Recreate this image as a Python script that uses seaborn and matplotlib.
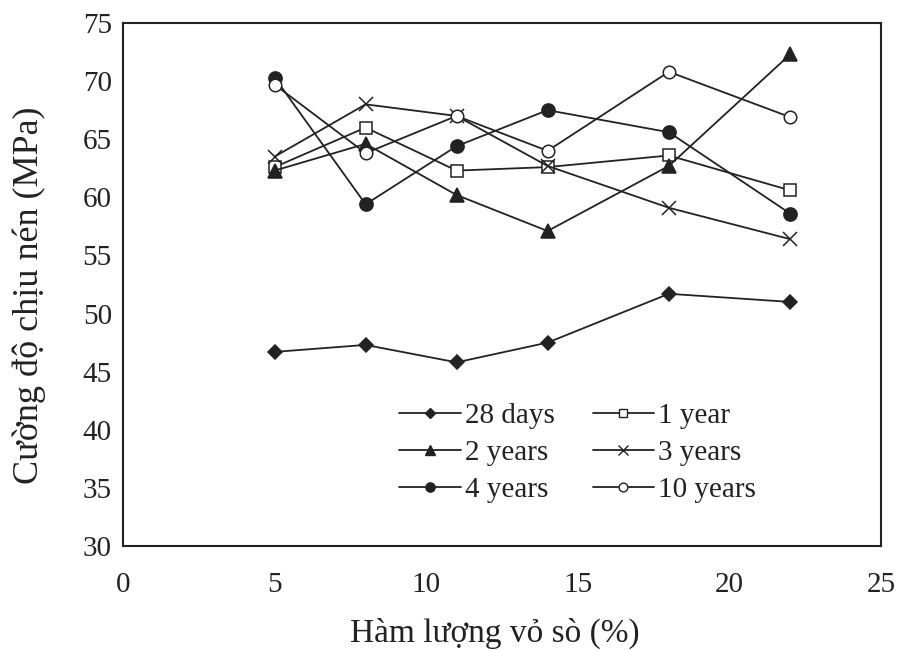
import matplotlib
matplotlib.use("Agg")
import matplotlib.pyplot as plt
import seaborn as sns
import pandas as pd
from matplotlib.lines import Line2D

x_vals = [5, 8, 11, 14, 18, 22]
s_28d = [46.7, 47.3, 45.8, 47.5, 51.7, 51.0]
s_1y = [62.6, 66.0, 62.3, 62.6, 63.6, 60.6]
s_2y = [62.3, 64.6, 60.2, 57.1, 62.7, 72.3]
s_3y = [63.5, 68.0, 67.0, 62.7, 59.1, 56.4]
s_4y = [70.3, 59.4, 64.4, 67.5, 65.6, 58.6]
s_10y = [69.7, 63.8, 67.0, 64.0, 70.8, 66.9]
series_names = ["28 days", "1 year", "2 years", "3 years", "4 years", "10 years"]
x_ticks = [0, 5, 10, 15, 20, 25]
y_ticks = [30, 35, 40, 45, 50, 55, 60, 65, 70, 75]

sns.set_style("white")
plt.rcParams['font.family'] = ['Liberation Serif', 'DejaVu Serif']

rows = []
for name, vals in zip(series_names, [s_28d, s_1y, s_2y, s_3y, s_4y, s_10y]):
    for xv, yv in zip(x_vals, vals):
        rows.append({"x": xv, "y": yv, "series": name})
df = pd.DataFrame(rows)

markers = {"28 days": "D", "1 year": "s", "2 years": "^", "3 years": "x",
           "4 years": "o", "10 years": "o"}
fills = {"28 days": True, "1 year": False, "2 years": True, "3 years": True,
         "4 years": True, "10 years": False}
sizes = {"28 days": 7.5, "1 year": 8.5, "2 years": 9.5, "3 years": 10,
         "4 years": 9.5, "10 years": 9}
C = "#222222"

fig = plt.figure(figsize=(9.01, 6.51), dpi=100)
ax = fig.add_axes([0.1365, 0.1613, 0.8415, 0.8034])

for name in series_names:
    sub = df[df["series"] == name]
    sns.lineplot(data=sub, x="x", y="y", ax=ax, color=C, linewidth=1.3,
                 marker=markers[name], markersize=sizes[name],
                 markerfacecolor=C if fills[name] else "white",
                 markeredgecolor=C, markeredgewidth=1.1,
                 sort=False, legend=False)

handles = []
for name in series_names:
    handles.append(Line2D([], [], color=C, lw=1.3, marker=markers[name],
                          markersize=sizes[name] * 0.7,
                          markerfacecolor=C if fills[name] else "white",
                          markeredgecolor=C, markeredgewidth=1.0))
order = [0, 2, 4, 1, 3, 5]
leg = ax.legend([handles[i] for i in order], [series_names[i] for i in order],
                ncol=2, frameon=False, fontsize=21, loc="center",
                bbox_to_anchor=(0.6, 0.178), handlelength=2.1,
                handletextpad=0.15, columnspacing=1.3, labelspacing=0.36,
                borderpad=0.1)
for t in leg.get_texts():
    t.set_color(C)

ax.set_xlim(0, 25)
ax.set_ylim(30, 75)
ax.set_xticks(x_ticks)
ax.set_yticks(y_ticks)
ax.tick_params(axis="both", direction="in", labelsize=21, length=6, width=1,
               colors=C, top=False, right=False)
ax.tick_params(axis="x", pad=19)
ax.tick_params(axis="y", pad=8)
for sp in ax.spines.values():
    sp.set_color(C)
    sp.set_linewidth(1.5)
ax.set_xlabel("Hàm lượng vỏ sò (%)", fontsize=24, color=C, va="center")
ax.xaxis.set_label_coords(0.49, -0.168)
ax.set_ylabel("Cường độ chịu nén (MPa)", fontsize=26, color=C, va="center")
ax.yaxis.set_label_coords(-0.123, 0.48)

fig.savefig("out.png", dpi=100)
